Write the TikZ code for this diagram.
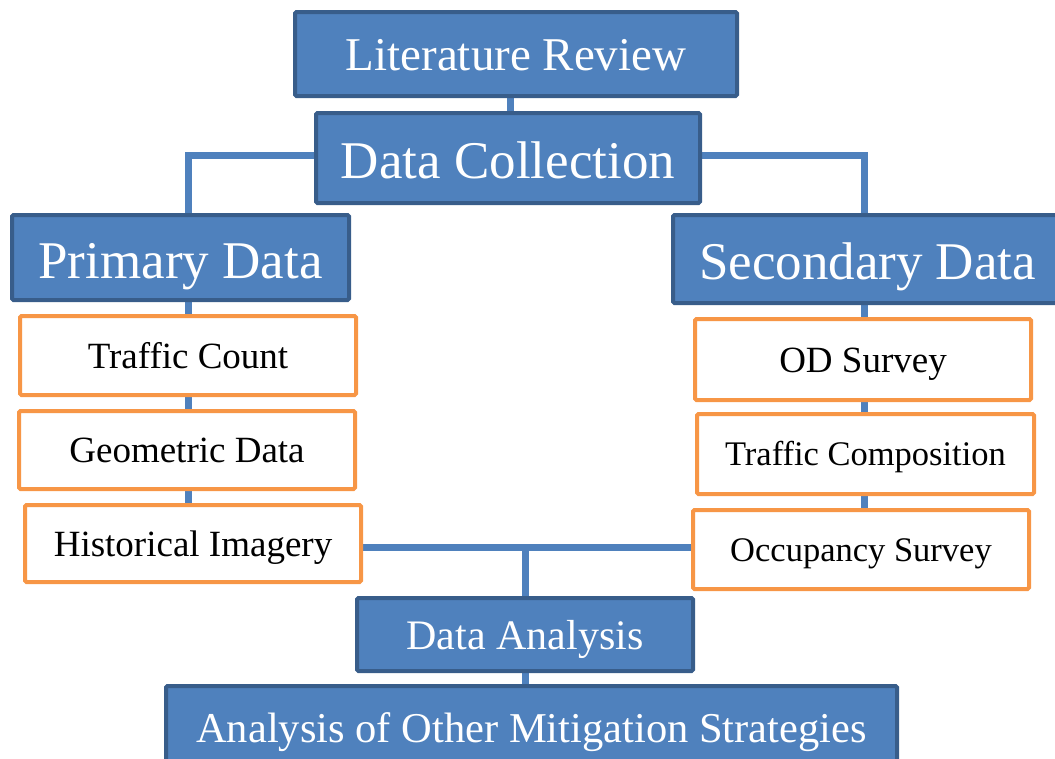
\documentclass[tikz,border=0pt]{standalone}
\usepackage{fontspec}
\setmainfont{Liberation Serif}
\usetikzlibrary{backgrounds}
\definecolor{boxblue}{HTML}{4F81BD}
\definecolor{boxedge}{HTML}{385D8A}
\definecolor{boxorange}{HTML}{F79646}
\definecolor{linkblue}{HTML}{4F81BD}
\tikzset{
  bluebox/.style={draw=boxedge, fill=boxblue, line width=4pt, rounded corners=1.5pt,
    text=white, inner sep=0pt, text depth=0pt, align=center},
  orangebox/.style={draw=boxorange, fill=white, line width=4pt, rounded corners=1.5pt,
    text=black, inner sep=0pt, text depth=0pt, align=center},
  fsA/.style={font=\fontsize{47}{50}\selectfont, text height=33pt},
  fsB/.style={font=\fontsize{53}{56}\selectfont, text height=41pt},
  fsC/.style={font=\fontsize{37}{40}\selectfont, text height=25.5pt},
  fsD/.style={font=\fontsize{34.5}{37}\selectfont, text height=23.5pt},
  fsE/.style={font=\fontsize{42}{45}\selectfont, text height=29pt},
  fsF/.style={font=\fontsize{42.5}{45}\selectfont, text height=29pt},
  link/.style={draw=linkblue, line width=7pt},
}
\begin{document}
\begin{tikzpicture}[x=1pt,y=-1pt]
\useasboundingbox (0,0) rectangle (1055,758);

\node[bluebox, fsA, minimum width=442pt, minimum height=84pt] (lit) at (516,54) {Literature Review};
\node[bluebox, fsB, minimum width=384pt, minimum height=90pt] (coll) at (508,158) {Data Collection};
\node[bluebox, fsB, minimum width=337pt, minimum height=85pt] (prim) at (180.5,257.5) {Primary Data};
\node[bluebox, fsB, minimum width=389pt, minimum height=88pt] (sec) at (867.5,259) {Secondary Data};

\node[orangebox, fsC, minimum width=336pt, minimum height=79pt] (tc) at (188,355.5) {Traffic Count};
\node[orangebox, fsC, minimum width=336pt, minimum height=78pt] (geo) at (187,450) {Geometric Data};
\node[orangebox, fsC, minimum width=336pt, minimum height=77pt] (hist) at (193,543.5) {Historical Imagery};

\node[orangebox, fsC, minimum width=336pt, minimum height=81pt] (od) at (863,359.5) {OD Survey};
\node[orangebox, fsD, minimum width=337pt, minimum height=80pt] (comp) at (865.5,454) {Traffic Composition};
\node[orangebox, fsD, minimum width=336pt, minimum height=79pt] (occ) at (861,549.5) {Occupancy Survey};

\node[bluebox, fsE, minimum width=336pt, minimum height=73pt] (ana) at (525,634.5) {Data Analysis};
\node[bluebox, fsF, minimum width=731pt, minimum height=84pt] (mit) at (531.5,728) {Analysis of Other Mitigation Strategies};

\coordinate (top) at (510,0);
\coordinate (cl) at (188,155);
\coordinate (cr) at (864,155);
\coordinate (bl) at (0,547);
\coordinate (bc) at (525,547);

\begin{scope}[on background layer]
  \draw[link] (lit.center -| top) -- (coll.center -| top);
  \draw[link] (coll.center |- cl) -- (cl) -- (cl |- hist.center);
  \draw[link] (coll.center |- cr) -- (cr) -- (cr |- occ.center);
  \draw[link] (hist.center |- bl) -- (occ.center |- bl);
  \draw[link] (bc) -- (bc |- mit.center);
\end{scope}
\end{tikzpicture}
\end{document}
